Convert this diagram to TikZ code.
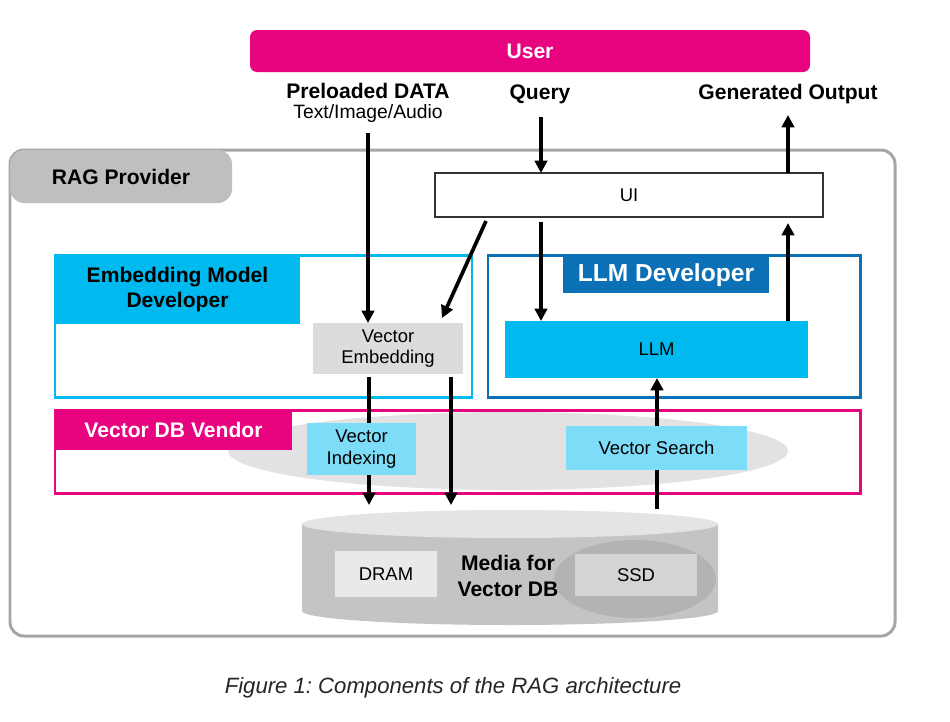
\documentclass[tikz,border=0pt]{standalone}
\usepackage{fontspec}
\setmainfont{Liberation Sans}
\frenchspacing
\usetikzlibrary{arrows.meta,calc}
\definecolor{mag}{HTML}{E8047F}
\definecolor{cyanx}{HTML}{00B9EF}
\definecolor{dblue}{HTML}{0B70B5}
\definecolor{lcyan}{HTML}{7DDCF7}
\definecolor{ragline}{HTML}{A6A6A6}
\definecolor{ragtab}{HTML}{BFBFBF}
\definecolor{vegray}{HTML}{DCDCDC}
\definecolor{ellgray}{HTML}{E2E2E2}
\definecolor{cylbody}{HTML}{C4C4C4}
\definecolor{cyltop}{HTML}{E4E4E4}
\definecolor{ssdell}{HTML}{B3B3B3}
\definecolor{dramfill}{HTML}{E9E9E9}
\definecolor{ssdfill}{HTML}{D4D4D4}
\begin{document}
\begin{tikzpicture}[x=0.02cm,y=-0.02cm,
  sz/.style 2 args={minimum width=#1*0.02cm, minimum height=#2*0.02cm, inner sep=0pt, outer sep=0pt, anchor=north west},
  lbl/.style={font=\fontsize{12}{14.7}\selectfont\bfseries, align=center},
  small/.style={font=\fontsize{10.5}{11.8}\selectfont, align=center},
  frame/.style={draw=#1, line width=1.7pt},
  arr/.style={line width=2.1pt, -{Triangle[length=7pt,width=7pt]}},
]
\useasboundingbox (0,0) rectangle (950,721);
\fill[white] (0,0) rectangle (950,721);

% User
\node[sz={560}{42}, fill=mag, rounded corners=4pt, lbl, text=white] (user) at (250,30) {User};
\node[lbl] (pre) at (368,91) {Preloaded DATA};
\node[font=\fontsize{11}{13}\selectfont] (tia) at (368,113) {Text/Image/Audio};
\node[lbl] (query) at (540,94) {Query};
\node[lbl] (gen) at (788,94) {Generated Output};

% RAG provider
\node[sz={885}{486}, frame=ragline, rounded corners=8pt, fill=white] (rag) at (10,150) {};
\node[sz={222}{53}, fill=ragtab, rounded corners=8pt, lbl] (ragtab) at (10,150) {RAG Provider};

% UI
\node[sz={388}{44}, draw=black!80, line width=0.6pt, fill=white, small] (ui) at (435,173) {UI};

% Embedding model developer
\node[sz={417}{142}, frame=cyanx] (emb) at (55,255) {};
\node[sz={245}{69}, fill=cyanx, lbl] (embtab) at (55,255) {Embedding Model\\Developer};
\node[sz={150}{51}, fill=vegray, small] (ve) at (313,323) {Vector\\Embedding};

% LLM developer
\node[sz={372}{142}, frame=dblue] (llmdev) at (488,255) {};
\node[sz={206}{36}, fill=dblue, text=white, font=\fontsize{14}{16}\selectfont\bfseries] (llmtab) at (563,257) {LLM Developer};
\node[sz={303}{57}, fill=cyanx, small] (llm) at (505,321) {LLM};

% Vector DB vendor
\fill[ellgray] (508,451) ellipse[x radius=280, y radius=39];
\node[sz={805}{83}, frame=mag] (vdb) at (55,410) {};
\node[sz={237}{40}, fill=mag, text=white, lbl] (vdbtab) at (55,410) {Vector DB Vendor};

% Cylinder
\fill[cylbody] (302,524) -- (302,611) arc[start angle=180, end angle=0, x radius=208, y radius=14] -- (718,524) -- cycle;
\fill[cyltop] (510,524) ellipse[x radius=208, y radius=14];
\fill[ssdell] (635,579) ellipse[x radius=81, y radius=39];
\node[sz={102}{46}, fill=dramfill, small] (dram) at (335,551) {DRAM};
\node[sz={122}{42}, fill=ssdfill, small] (ssd) at (575,554) {SSD};
\node[lbl] (media) at (508,576) {Media for\\Vector DB};
\coordinate (dbA) at (369,505);
\coordinate (dbB) at (451,505);
\coordinate (dbC) at (657,509);

% Arrows
\coordinate (preS) at (368,133);
\draw[arr] (preS) -- (preS |- ve.north);
\coordinate (qS) at (541,117);
\draw[arr] (qS) -- (qS |- ui.north);
\coordinate (gE) at (788,115);
\draw[arr] (gE |- ui.north) -- (gE);
\draw[arr] ($(ui.south west)+(51,4)$) -- ($(ve.north east)+(-21,-5)$);
\coordinate (c1) at (541,222);
\draw[arr] (c1) -- (c1 |- llm.north);
\coordinate (c2) at (788,223);
\draw[arr] (c2 |- llm.north) -- (c2);
\coordinate (c3) at (369,377);
\draw[arr] (c3) -- (dbA);
\coordinate (c4) at (451,377);
\draw[arr] (c4) -- (dbB);
\draw[arr] (dbC) -- (dbC |- llm.south);

% Vector DB functions (on top of the lines)
\node[sz={109}{52}, fill=lcyan, small, font=\fontsize{10.5}{12.5}\selectfont] (vi) at (307,423) {Vector\\Indexing};
\node[sz={181}{44}, fill=lcyan, small] (vs) at (566,426) {Vector Search};

% Caption
\node[font=\fontsize{12.6}{15}\selectfont\itshape, text=black!85] (cap) at (453,688) {Figure 1: Components of the RAG architecture};
\end{tikzpicture}
\end{document}
